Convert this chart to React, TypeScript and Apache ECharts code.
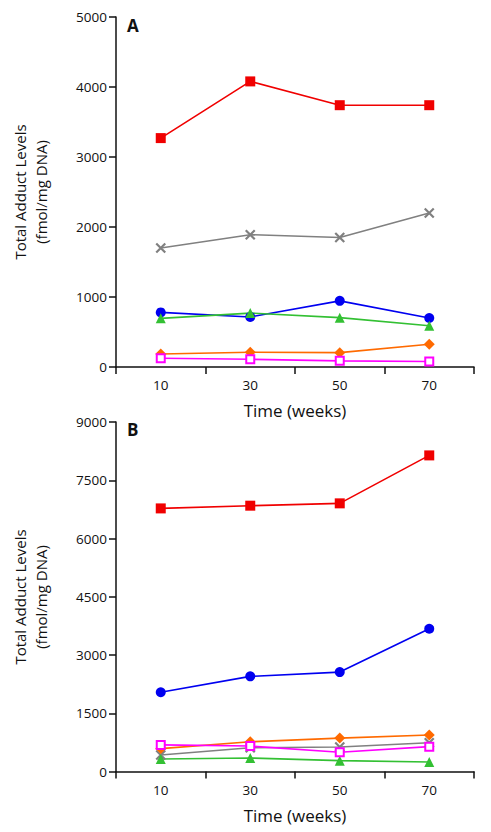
import React, { useEffect, useRef } from "react";
import * as echarts from "echarts";

const weeks = ["10", "30", "50", "70"];

// Panel A values (fmol/mg DNA)
const aRed = [3270, 4080, 3740, 3740];
const aGray = [1700, 1890, 1850, 2200];
const aBlue = [780, 715, 945, 700];
const aGreen = [695, 770, 705, 590];
const aOrange = [185, 210, 205, 325];
const aMagenta = [125, 110, 88, 78];

// Panel B values
const bRed = [6775, 6845, 6905, 8140];
const bBlue = [2040, 2450, 2560, 3675];
const bOrange = [590, 765, 860, 940];
const bGray = [425, 610, 630, 740];
const bMagenta = [685, 655, 495, 640];
const bGreen = [322, 348, 280, 245];

const yTicksA = { min: 0, max: 5000, interval: 1000 };
const yTicksB = { min: 0, max: 9000, interval: 1500 };

const FONT = "Open Sans";
const CROSS = "path://M0,0 L10,10 M10,0 L0,10";

function App() {
  const ref = useRef<HTMLDivElement>(null);
  useEffect(() => {
    document.body.style.margin = "0";
    const chart = echarts.init(ref.current!, null, { renderer: "svg" });

    const mk = (
      name: string,
      data: number[],
      color: string,
      symbol: string,
      size: number,
      idx: number,
      extra: any = {}
    ) => ({
      name,
      type: "line",
      xAxisIndex: idx,
      yAxisIndex: idx,
      data,
      symbol,
      symbolSize: size,
      lineStyle: { color, width: 1.6 },
      itemStyle: { color, borderColor: color, borderWidth: 0, ...extra },
      showAllSymbol: true,
    });

    const styleSeries = (idx: number, r: number[], g: number[], b: number[], gr: number[], o: number[], m: number[]) => [
      mk("Red", r, "#f00000", "rect", 10, idx),
      mk("Gray", g, "#808080", CROSS, 9, idx, { borderWidth: 2.2, color: "#808080" }),
      mk("Blue", b, "#0000f0", "circle", 10, idx),
      mk("Green", gr, "#33c033", "triangle", 10, idx),
      mk("Orange", o, "#ff6a00", "diamond", 11, idx),
      mk("Magenta", m, "#ff00ff", "rect", 8, idx, { color: "#ffffff", borderColor: "#ff00ff", borderWidth: 2 }),
    ];

    const xAxisCommon = {
      type: "category",
      data: weeks,
      boundaryGap: true,
      axisLine: { lineStyle: { color: "#111", width: 1.5 } },
      axisTick: { show: true, length: 7, inside: false, lineStyle: { color: "#111", width: 1.5 } },
      axisLabel: { color: "#111", fontFamily: FONT, fontSize: 13.5, margin: 11 },
      name: "Time (weeks)",
      nameLocation: "middle",
      nameGap: 35,
      nameTextStyle: { color: "#111", fontFamily: FONT, fontSize: 17 },
      splitLine: { show: false },
    };
    const yAxisCommon = {
      type: "value",
      axisLine: { show: true, lineStyle: { color: "#111", width: 1.5 } },
      axisTick: { show: true, length: 7, lineStyle: { color: "#111", width: 1.5 } },
      axisLabel: { color: "#111", fontFamily: FONT, fontSize: 13.5, margin: 9, formatter: (v: number) => String(v) },
      splitLine: { show: false },
    };

    const yName = (cy: number) => ({
      type: "text",
      x: 30,
      y: cy,
      rotation: Math.PI / 2,
      style: {
        text: "Total Adduct Levels\n(fmol/mg DNA)",
        fill: "#111",
        font: `15px "${FONT}"`,
        align: "center",
        verticalAlign: "middle",
        lineHeight: 21,
      },
    });

    chart.setOption({
      animation: false,
      backgroundColor: "#ffffff",
      grid: [
        { left: 116, top: 17, right: 17, height: 350 },
        { left: 116, top: 422, right: 17, height: 349.5 },
      ],
      xAxis: [
        { ...xAxisCommon, gridIndex: 0 },
        { ...xAxisCommon, gridIndex: 1 },
      ],
      yAxis: [
        { ...yAxisCommon, gridIndex: 0, ...yTicksA },
        { ...yAxisCommon, gridIndex: 1, ...yTicksB },
      ],
      graphic: [
        yName(192),
        yName(597),
        { type: "text", left: 127, top: 17, style: { text: "A", fill: "#111", font: `bold 17px "${FONT}"` } },
        { type: "text", left: 127, top: 421, style: { text: "B", fill: "#111", font: `bold 17px "${FONT}"` } },
      ],
      series: [
        ...styleSeries(0, aRed, aGray, aBlue, aGreen, aOrange, aMagenta),
        ...styleSeries(1, bRed, bGray, bBlue, bGreen, bOrange, bMagenta),
      ],
    });
    return () => chart.dispose();
  }, []);
  return <div ref={ref} style={{ width: 491, height: 832 }} />;
}

export default App;
